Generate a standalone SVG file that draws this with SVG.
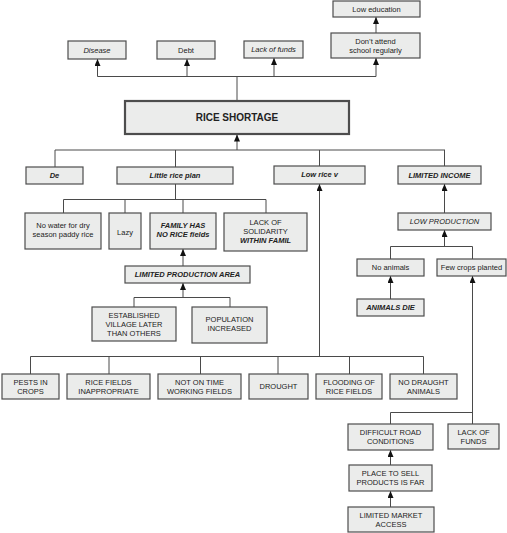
<svg xmlns="http://www.w3.org/2000/svg" width="507" height="533" viewBox="0 0 507 533">
<style>
.b{fill:#ebeceb;stroke:#4d4d4d;stroke-width:1.2}
.t{font-family:"Liberation Sans",Arial,sans-serif;font-size:7.5px;fill:#222;text-anchor:middle;dominant-baseline:central}
.i{font-style:italic}
.bi{font-style:italic;font-weight:bold}
.c{fill:none;stroke:#4a4a4a;stroke-width:1}
</style>
<defs>
<marker id="ah" markerUnits="userSpaceOnUse" markerWidth="7" markerHeight="6" refX="7" refY="3" orient="auto">
<path d="M0,0 L7,3 L0,6 z" fill="#111"/>
</marker>
</defs>
<rect width="507" height="533" fill="#fff"/>
<g id="connectors" class="c">
<path d="M237,101 V76.5 M97.5,76.5 H376"/>
<path d="M97.5,76.5 V59" marker-end="url(#ah)"/>
<path d="M187,76.5 V59" marker-end="url(#ah)"/>
<path d="M274,76.5 V58" marker-end="url(#ah)"/>
<path d="M376,76.5 V58" marker-end="url(#ah)"/>
<path d="M376,33 V17" marker-end="url(#ah)"/>
<path d="M237,150 V134.5" marker-end="url(#ah)"/>
<path d="M55,150 H445 M55,150 V167 M175.5,150 V167 M319.5,150 V166 M444.5,150 V166"/>
<path d="M175.5,184 V199.5 M63.5,199.5 H266 M63.5,199.5 V213 M125,199.5 V213 M183,199.5 V213 M266,199.5 V213"/>
<path d="M183,266 V249" marker-end="url(#ah)"/>
<path d="M134,297.5 H230 M134,297.5 V307 M230,297.5 V307"/>
<path d="M183,297.5 V283" marker-end="url(#ah)"/>
<path d="M319.5,356.5 V184" marker-end="url(#ah)"/>
<path d="M30.5,356.5 H423.5 M30.5,356.5 V374 M109,356.5 V374 M200.5,356.5 V374 M278,356.5 V374 M349.5,356.5 V374 M423.5,356.5 V374"/>
<path d="M444.5,213 V184" marker-end="url(#ah)"/>
<path d="M444.5,246.5 V230" marker-end="url(#ah)"/>
<path d="M390.5,246.5 H472.5 M390.5,246.5 V259 M472.5,246.5 V259"/>
<path d="M390.5,299 V276" marker-end="url(#ah)"/>
<path d="M472.5,424 V276" marker-end="url(#ah)"/>
<path d="M390.5,412.5 H472.5 M390.5,412.5 V424"/>
<path d="M390.5,465 V450" marker-end="url(#ah)"/>
<path d="M390.5,507 V491" marker-end="url(#ah)"/>
</g>
<g id="low-education"><rect class="b" x="333" y="1" width="87" height="16"/><text class="t" x="376.5" y="9">Low education</text></g>
<g id="dont-attend"><rect class="b" x="331" y="33" width="89" height="25"/><text class="t" x="375.5" y="41.5">Don’t attend</text><text class="t" x="375.5" y="50.5">school regularly</text></g>
<g id="disease"><rect class="b" x="68" y="41" width="58" height="18"/><text class="t i" x="97" y="50">Disease</text></g>
<g id="debt"><rect class="b" x="157" y="41" width="58" height="18"/><text class="t" x="186" y="50">Debt</text></g>
<g id="lack-of-funds-top"><rect class="b" x="244" y="41" width="59" height="17"/><text class="t i" x="273.5" y="49.5">Lack of funds</text></g>
<g id="rice-shortage"><rect class="b" x="125" y="101" width="224" height="33" style="stroke-width:2.2"/><text class="t" x="237" y="117.5" style="font-size:10px;font-weight:bold">RICE SHORTAGE</text></g>
<g id="de"><rect class="b" x="26" y="167" width="57" height="17"/><text class="t bi" x="54.5" y="175.5">De</text></g>
<g id="little-rice-plan"><rect class="b" x="117" y="167" width="116" height="17"/><text class="t bi" x="175" y="175.5">Little rice plan</text></g>
<g id="low-rice-v"><rect class="b" x="274" y="166" width="91" height="18"/><text class="t bi" x="319.5" y="174.5">Low rice v</text></g>
<g id="limited-income"><rect class="b" x="398" y="166" width="83" height="18"/><text class="t bi" x="439.5" y="175">LIMITED INCOME</text></g>
<g id="no-water"><rect class="b" x="25" y="213" width="76" height="36"/><text class="t" x="63" y="225.5">No water for dry</text><text class="t" x="63" y="234.5">season paddy rice</text></g>
<g id="lazy"><rect class="b" x="109" y="213" width="32" height="36"/><text class="t" x="125" y="232">Lazy</text></g>
<g id="family-has-no-rice"><rect class="b" x="150" y="213" width="66" height="36"/><text class="t bi" x="183" y="225.5">FAMILY HAS</text><text class="t bi" x="183" y="234.5">NO RICE fields</text></g>
<g id="lack-of-solidarity"><rect class="b" x="224" y="213" width="83" height="38"/><text class="t" x="265.5" y="222">LACK OF</text><text class="t" x="265.5" y="231">SOLIDARITY</text><text class="t bi" x="265.5" y="240">WITHIN FAMIL</text></g>
<g id="limited-production-area"><rect class="b" x="125" y="266" width="125" height="17"/><text class="t bi" x="187.5" y="274.5">LIMITED PRODUCTION AREA</text></g>
<g id="established-village"><rect class="b" x="92" y="307" width="84" height="34"/><text class="t" x="134" y="315">ESTABLISHED</text><text class="t" x="134" y="324.3">VILLAGE LATER</text><text class="t" x="134" y="333.6">THAN OTHERS</text></g>
<g id="population-increased"><rect class="b" x="192" y="307" width="75" height="36"/><text class="t" x="229.5" y="319.5">POPULATION</text><text class="t" x="229.5" y="328.8">INCREASED</text></g>
<g id="low-production"><rect class="b" x="398" y="213" width="93" height="17"/><text class="t i" x="444.5" y="221.5">LOW PRODUCTION</text></g>
<g id="no-animals"><rect class="b" x="357" y="259" width="67" height="17"/><text class="t" x="390.5" y="267.5">No animals</text></g>
<g id="few-crops"><rect class="b" x="437" y="259" width="69" height="17"/><text class="t" x="471.5" y="267.5">Few crops planted</text></g>
<g id="animals-die"><rect class="b" x="357" y="299" width="67" height="17"/><text class="t bi" x="390.5" y="307.5">ANIMALS DIE</text></g>
<g id="pests"><rect class="b" x="2" y="374" width="57" height="25"/><text class="t" x="30.5" y="382.5">PESTS IN</text><text class="t" x="30.5" y="391.5">CROPS</text></g>
<g id="rice-fields-inappropriate"><rect class="b" x="67" y="374" width="83" height="25"/><text class="t" x="108.5" y="382.5">RICE FIELDS</text><text class="t" x="108.5" y="391.5">INAPPROPRIATE</text></g>
<g id="not-on-time"><rect class="b" x="158" y="374" width="83" height="25"/><text class="t" x="199.5" y="382.5">NOT ON TIME</text><text class="t" x="199.5" y="391.5">WORKING FIELDS</text></g>
<g id="drought"><rect class="b" x="249" y="374" width="59" height="25"/><text class="t" x="278.5" y="386.5">DROUGHT</text></g>
<g id="flooding"><rect class="b" x="316" y="374" width="66" height="25"/><text class="t" x="349" y="382.5">FLOODING OF</text><text class="t" x="349" y="391.5">RICE FIELDS</text></g>
<g id="no-draught-animals"><rect class="b" x="390" y="374" width="67" height="25"/><text class="t" x="423.5" y="382.5">NO DRAUGHT</text><text class="t" x="423.5" y="391.5">ANIMALS</text></g>
<g id="difficult-road"><rect class="b" x="348" y="424" width="85" height="26"/><text class="t" x="390.5" y="432.5">DIFFICULT ROAD</text><text class="t" x="390.5" y="441.5">CONDITIONS</text></g>
<g id="lack-of-funds-bottom"><rect class="b" x="448" y="424" width="51" height="25"/><text class="t" x="473.5" y="432.5">LACK OF</text><text class="t" x="473.5" y="441.5">FUNDS</text></g>
<g id="place-to-sell"><rect class="b" x="349" y="465" width="83" height="26"/><text class="t" x="390.5" y="473">PLACE TO SELL</text><text class="t" x="390.5" y="482">PRODUCTS IS FAR</text></g>
<g id="limited-market-access"><rect class="b" x="348" y="507" width="86" height="25"/><text class="t" x="391" y="515.5">LIMITED MARKET</text><text class="t" x="391" y="524.5">ACCESS</text></g>
</svg>
